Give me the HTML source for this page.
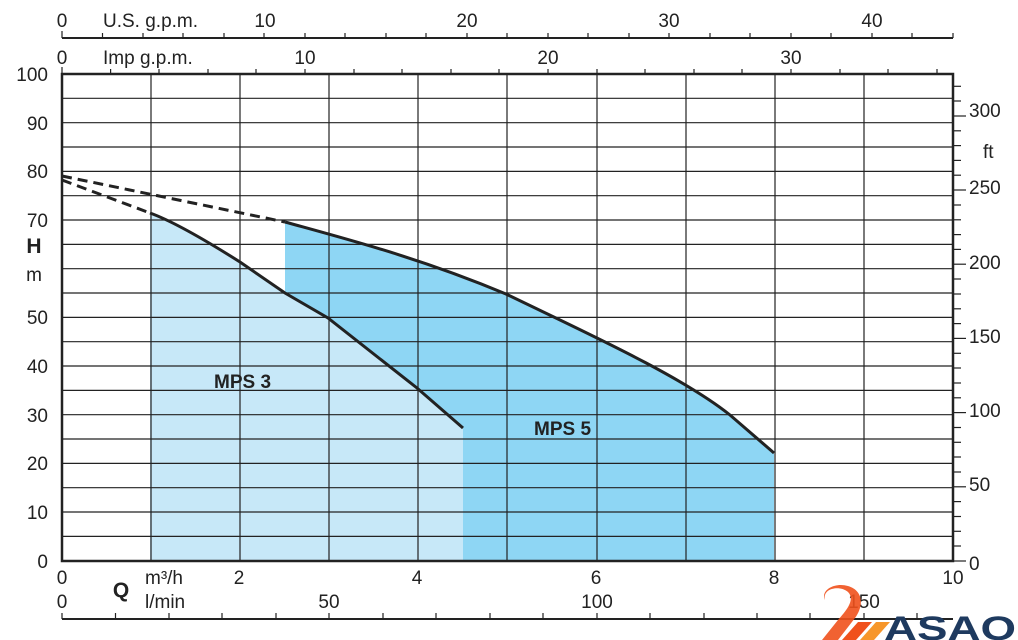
<!DOCTYPE html>
<html><head><meta charset="utf-8"><style>
body{margin:0;background:#fff}
svg{display:block;font-family:"Liberation Sans",Arial,sans-serif}
</style></head><body>
<svg width="1018" height="640" viewBox="0 0 1018 640" xmlns="http://www.w3.org/2000/svg">
<path d="M150,561 L150,213 C175,222 210,243 240,262 L285,293 L328,318 L417,388 L463,428 L463,561 Z" fill="#c7e8f8"/>
<path d="M463,561 L463,428 L417,388 L328,318 L285,293 L285,222 C350,240 420,258 506,294 C580,330 680,375 730,415 L774,453 L774,561 Z" fill="#8ed6f4"/>
<g stroke="#222" stroke-width="1.2">
<line x1="62" y1="98.3" x2="953" y2="98.3"/><line x1="62" y1="122.7" x2="953" y2="122.7"/><line x1="62" y1="147" x2="953" y2="147"/><line x1="62" y1="171.4" x2="953" y2="171.4"/><line x1="62" y1="195.7" x2="953" y2="195.7"/><line x1="62" y1="220" x2="953" y2="220"/><line x1="62" y1="244.4" x2="953" y2="244.4"/><line x1="62" y1="268.7" x2="953" y2="268.7"/><line x1="62" y1="293" x2="953" y2="293"/><line x1="62" y1="317.4" x2="953" y2="317.4"/><line x1="62" y1="341.7" x2="953" y2="341.7"/><line x1="62" y1="366" x2="953" y2="366"/><line x1="62" y1="390.4" x2="953" y2="390.4"/><line x1="62" y1="414.7" x2="953" y2="414.7"/><line x1="62" y1="439" x2="953" y2="439"/><line x1="62" y1="463.4" x2="953" y2="463.4"/><line x1="62" y1="487.7" x2="953" y2="487.7"/><line x1="62" y1="512" x2="953" y2="512"/><line x1="62" y1="536.4" x2="953" y2="536.4"/>
<line x1="151" y1="74" x2="151" y2="561"/><line x1="240" y1="74" x2="240" y2="561"/><line x1="329" y1="74" x2="329" y2="561"/><line x1="418" y1="74" x2="418" y2="561"/><line x1="507" y1="74" x2="507" y2="561"/><line x1="597" y1="74" x2="597" y2="561"/><line x1="686" y1="74" x2="686" y2="561"/><line x1="775" y1="74" x2="775" y2="561"/><line x1="864" y1="74" x2="864" y2="561"/>
</g>
<rect x="62" y="74" width="891" height="487" fill="none" stroke="#222" stroke-width="2.5"/>
<g fill="none" stroke="#222" stroke-width="3">
<path d="M150,213 C175,222 210,243 240,262 L285,293 L328,318 L417,388 L463,428"/>
<path d="M285,222 C350,240 420,258 506,294 C580,330 680,375 730,415 L774,453"/>
<path d="M62,180 L150,213" stroke-dasharray="10,6"/>
<path d="M62,176 L285,222" stroke-dasharray="10,6"/>
</g>
<line x1="62" y1="38" x2="953" y2="38" stroke="#222" stroke-width="2"/>
<g stroke="#222" stroke-width="1.2">
<line x1="62" y1="31" x2="62" y2="38"/><line x1="102.5" y1="33" x2="102.5" y2="38"/><line x1="143" y1="33" x2="143" y2="38"/><line x1="183" y1="33" x2="183" y2="38"/><line x1="224" y1="33" x2="224" y2="38"/><line x1="264" y1="33" x2="264" y2="38"/><line x1="305" y1="33" x2="305" y2="38"/><line x1="345" y1="33" x2="345" y2="38"/><line x1="386" y1="33" x2="386" y2="38"/><line x1="426" y1="33" x2="426" y2="38"/><line x1="467" y1="33" x2="467" y2="38"/><line x1="507" y1="33" x2="507" y2="38"/><line x1="548" y1="33" x2="548" y2="38"/><line x1="588" y1="33" x2="588" y2="38"/><line x1="629" y1="33" x2="629" y2="38"/><line x1="669" y1="33" x2="669" y2="38"/><line x1="710" y1="33" x2="710" y2="38"/><line x1="750" y1="33" x2="750" y2="38"/><line x1="791" y1="33" x2="791" y2="38"/><line x1="831" y1="33" x2="831" y2="38"/><line x1="872" y1="33" x2="872" y2="38"/><line x1="912" y1="33" x2="912" y2="38"/><line x1="953" y1="33" x2="953" y2="38"/>
</g>
<g stroke="#222" stroke-width="1.2">
<line x1="62" y1="67" x2="62" y2="74"/><line x1="110.6" y1="69" x2="110.6" y2="74"/><line x1="159" y1="69" x2="159" y2="74"/><line x1="208" y1="69" x2="208" y2="74"/><line x1="256" y1="69" x2="256" y2="74"/><line x1="305" y1="69" x2="305" y2="74"/><line x1="354" y1="69" x2="354" y2="74"/><line x1="402" y1="69" x2="402" y2="74"/><line x1="451" y1="69" x2="451" y2="74"/><line x1="499" y1="69" x2="499" y2="74"/><line x1="548" y1="69" x2="548" y2="74"/><line x1="597" y1="69" x2="597" y2="74"/><line x1="645" y1="69" x2="645" y2="74"/><line x1="694" y1="69" x2="694" y2="74"/><line x1="742" y1="69" x2="742" y2="74"/><line x1="791" y1="69" x2="791" y2="74"/><line x1="840" y1="69" x2="840" y2="74"/><line x1="888" y1="69" x2="888" y2="74"/><line x1="937" y1="69" x2="937" y2="74"/>
</g>
<line x1="62" y1="619" x2="953" y2="619" stroke="#222" stroke-width="2"/>
<g stroke="#222" stroke-width="1.2">
<line x1="62" y1="613" x2="62" y2="619"/><line x1="115.5" y1="613" x2="115.5" y2="619"/><line x1="169" y1="613" x2="169" y2="619"/><line x1="222" y1="613" x2="222" y2="619"/><line x1="276" y1="613" x2="276" y2="619"/><line x1="329" y1="613" x2="329" y2="619"/><line x1="383" y1="613" x2="383" y2="619"/><line x1="436" y1="613" x2="436" y2="619"/><line x1="490" y1="613" x2="490" y2="619"/><line x1="543" y1="613" x2="543" y2="619"/><line x1="597" y1="613" x2="597" y2="619"/><line x1="650" y1="613" x2="650" y2="619"/><line x1="704" y1="613" x2="704" y2="619"/><line x1="757" y1="613" x2="757" y2="619"/><line x1="810" y1="613" x2="810" y2="619"/><line x1="864" y1="613" x2="864" y2="619"/><line x1="917" y1="613" x2="917" y2="619"/>
</g>
<g stroke="#222" stroke-width="1.2">
<line x1="953" y1="561" x2="966" y2="561"/><line x1="953" y1="546" x2="961" y2="546"/><line x1="953" y1="531.3" x2="961" y2="531.3"/><line x1="953" y1="516.5" x2="961" y2="516.5"/><line x1="953" y1="501.6" x2="961" y2="501.6"/><line x1="953" y1="486.8" x2="966" y2="486.8"/><line x1="953" y1="472" x2="961" y2="472"/><line x1="953" y1="457" x2="961" y2="457"/><line x1="953" y1="442.3" x2="961" y2="442.3"/><line x1="953" y1="427.5" x2="961" y2="427.5"/><line x1="953" y1="412.6" x2="966" y2="412.6"/><line x1="953" y1="397.8" x2="961" y2="397.8"/><line x1="953" y1="383" x2="961" y2="383"/><line x1="953" y1="368" x2="961" y2="368"/><line x1="953" y1="353.3" x2="961" y2="353.3"/><line x1="953" y1="338.4" x2="966" y2="338.4"/><line x1="953" y1="323.6" x2="961" y2="323.6"/><line x1="953" y1="308.8" x2="961" y2="308.8"/><line x1="953" y1="294" x2="961" y2="294"/><line x1="953" y1="279" x2="961" y2="279"/><line x1="953" y1="264.2" x2="966" y2="264.2"/><line x1="953" y1="249.4" x2="961" y2="249.4"/><line x1="953" y1="234.6" x2="961" y2="234.6"/><line x1="953" y1="219.8" x2="961" y2="219.8"/><line x1="953" y1="205" x2="961" y2="205"/><line x1="953" y1="190" x2="966" y2="190"/><line x1="953" y1="175.2" x2="961" y2="175.2"/><line x1="953" y1="160.4" x2="961" y2="160.4"/><line x1="953" y1="145.6" x2="961" y2="145.6"/><line x1="953" y1="130.8" x2="961" y2="130.8"/><line x1="953" y1="116" x2="966" y2="116"/><line x1="953" y1="101" x2="961" y2="101"/><line x1="953" y1="86.3" x2="961" y2="86.3"/>
</g>
<g font-size="19" fill="#222">
<text x="62" y="27" text-anchor="middle">0</text><text x="103" y="27">U.S. g.p.m.</text>
<text x="265" y="27" text-anchor="middle">10</text><text x="467" y="27" text-anchor="middle">20</text><text x="669" y="27" text-anchor="middle">30</text><text x="872" y="27" text-anchor="middle">40</text>
<text x="62" y="64" text-anchor="middle">0</text><text x="103" y="64">Imp g.p.m.</text>
<text x="305" y="64" text-anchor="middle">10</text><text x="548" y="64" text-anchor="middle">20</text><text x="791" y="64" text-anchor="middle">30</text>
<g text-anchor="end">
<text x="48" y="81">100</text><text x="48" y="130">90</text><text x="48" y="178">80</text><text x="48" y="227">70</text><text x="48" y="324">50</text><text x="48" y="373">40</text><text x="48" y="422">30</text><text x="48" y="470">20</text><text x="48" y="519">10</text><text x="48" y="568">0</text>
</g>
<text x="34" y="253" text-anchor="middle" font-weight="bold" font-size="21">H</text>
<text x="34" y="281" text-anchor="middle">m</text>
<text x="969" y="117">300</text><text x="983" y="158">ft</text><text x="969" y="194">250</text><text x="969" y="269">200</text><text x="969" y="343">150</text><text x="969" y="417">100</text><text x="969" y="491">50</text><text x="969" y="570">0</text>
<text x="62" y="584" text-anchor="middle">0</text><text x="145" y="584">m³/h</text>
<text x="239" y="584" text-anchor="middle">2</text><text x="417" y="584" text-anchor="middle">4</text><text x="596" y="584" text-anchor="middle">6</text><text x="774" y="584" text-anchor="middle">8</text><text x="953" y="584" text-anchor="middle">10</text>
<text x="62" y="608" text-anchor="middle">0</text><text x="145" y="608">l/min</text>
<text x="121" y="597" text-anchor="middle" font-weight="bold" font-size="21">Q</text>
<text x="329" y="608" text-anchor="middle">50</text><text x="597" y="608" text-anchor="middle">100</text><text x="864" y="608" text-anchor="middle">150</text>
<text x="214" y="388" font-weight="bold">MPS 3</text>
<text x="534" y="435" font-weight="bold">MPS 5</text>
</g>
<g>
<path d="M825,600 C822,588 840,585 848,592 C856,600 845,612 838,620 L822,640 L838,640 L855,618 C865,604 862,590 848,586 C835,582 820,590 825,600 Z" fill="#f0511c" opacity="0.9"/>
<path d="M842,640 L858,622 L872,622 L856,640 Z" fill="#f0511c"/>
<path d="M860,640 L876,622 L890,622 L874,640 Z" fill="#f7962a"/>
<text x="884" y="640" font-size="34" font-weight="bold" fill="#1e3a5f" textLength="132" lengthAdjust="spacingAndGlyphs">ASAO</text>
</g>
</svg>
</body></html>
